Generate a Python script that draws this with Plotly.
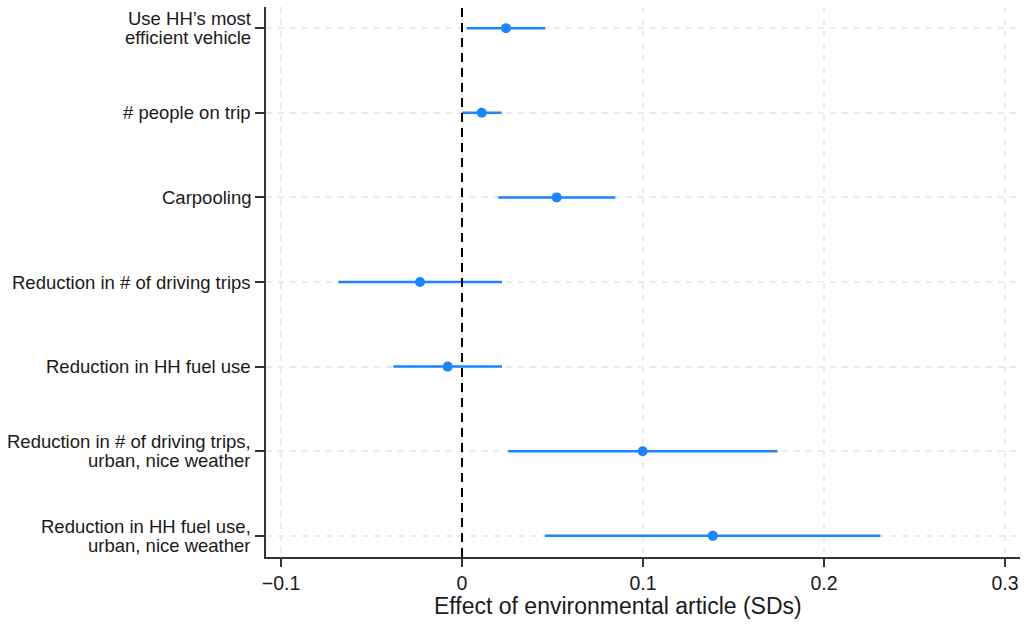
import plotly.graph_objects as go

labels = [
    ["Use HH\u2019s most", "efficient vehicle"],
    ["# people on trip"],
    ["Carpooling"],
    ["Reduction in # of driving trips"],
    ["Reduction in HH fuel use"],
    ["Reduction in # of driving trips,", "urban, nice weather"],
    ["Reduction in HH fuel use,", "urban, nice weather"],
]
estimates = [0.0243, 0.0109, 0.0523, -0.0232, -0.0079, 0.0998, 0.1386]
ci_low = [0.0026, 0.0000, 0.0201, -0.0683, -0.0380, 0.0255, 0.0458]
ci_high = [0.0460, 0.0219, 0.0847, 0.0221, 0.0221, 0.1743, 0.2312]
x_ticks = [-0.1, 0, 0.1, 0.2, 0.3]
x_ticktext = ["\u22120.1", "0", "0.1", "0.2", "0.3"]
x_title = "Effect of environmental article (SDs)"

positions = list(range(1, len(labels) + 1))
blue = "#1a85ff"
txt = "#1a1a1a"
label_size = 18.5
line_gap = 19

fig = go.Figure()
fig.add_trace(go.Scatter(
    x=estimates,
    y=positions,
    mode="markers",
    marker=dict(color=blue, size=10),
    error_x=dict(
        type="data",
        symmetric=False,
        array=[h - e for h, e in zip(ci_high, estimates)],
        arrayminus=[e - l for e, l in zip(estimates, ci_low)],
        color=blue,
        thickness=2.5,
        width=0,
    ),
    showlegend=False,
))

fig.add_shape(
    type="line", x0=0, x1=0, xref="x", y0=0, y1=1, yref="paper",
    line=dict(color="black", width=2, dash="9px,6px"), layer="above",
)

# category labels (tight line spacing like the original)
for pos, lines in zip(positions, labels):
    n = len(lines)
    for j, line in enumerate(lines):
        fig.add_annotation(
            x=0, xref="paper", xanchor="right", xshift=-13,
            y=pos, yref="y", yanchor="middle",
            yshift=(n - 1) / 2 * line_gap - j * line_gap,
            text=line, showarrow=False, align="right",
            font=dict(size=label_size, color=txt),
        )

# x-axis title
fig.add_annotation(
    x=0.4668, xref="paper", xanchor="center",
    y=0, yref="paper", yanchor="top", yshift=-34,
    text=x_title, showarrow=False,
    font=dict(size=23, color=txt),
)

fig.update_layout(
    width=1031, height=626,
    margin=dict(l=266, r=11, t=7, b=69),
    plot_bgcolor="white", paper_bgcolor="white",
    font=dict(family="Liberation Sans, Arial, sans-serif", color=txt),
    xaxis=dict(
        range=[-0.1083, 0.3083],
        tickvals=x_ticks, ticktext=x_ticktext,
        tickfont=dict(size=19.5),
        showline=True, linecolor="#333333", linewidth=1.5,
        ticks="outside", ticklen=8, tickcolor="#333333", tickwidth=1.5,
        showgrid=True, gridcolor="#ebebeb", gridwidth=1.5, griddash="6px,6px",
        zeroline=False, automargin=False,
    ),
    yaxis=dict(
        range=[7.25, 0.75],
        tickvals=positions, ticktext=[""] * len(positions),
        showline=True, linecolor="#333333", linewidth=1.5,
        ticks="outside", ticklen=9, tickcolor="#333333", tickwidth=1.5,
        showgrid=True, gridcolor="#ebebeb", gridwidth=1.5, griddash="6px,6px",
        zeroline=False, automargin=False,
    ),
)

fig.write_html(
    "out.html",
    config={"displayModeBar": False},
    post_script="document.body.style.margin='0';document.body.style.overflow='hidden';",
)
